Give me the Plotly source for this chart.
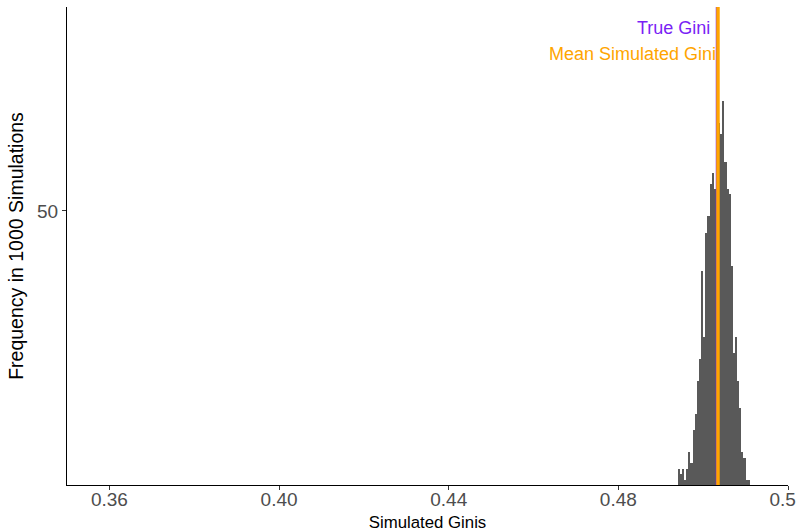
import plotly.graph_objects as go

# ---- data ----
bin_centers = [0.49425, 0.49475, 0.49525, 0.49575, 0.49625, 0.49675, 0.49725, 0.49775,
               0.49825, 0.49875, 0.49925, 0.49975, 0.50025, 0.50075, 0.50125, 0.50175,
               0.50225, 0.50275, 0.50325, 0.50375, 0.50425, 0.50475, 0.50525, 0.50575,
               0.50625, 0.50675, 0.50725, 0.50775, 0.50825, 0.50875, 0.50925, 0.50975,
               0.51025, 0.51075]
counts = [3, 2, 3, 1, 3, 6, 4, 10, 13, 19, 23, 39, 27, 46, 49, 55, 57, 54, 65, 66,
          64, 70, 59, 54, 53, 40, 24, 27, 19, 14, 6, 5, 1, 1]
bin_width = 0.0005

true_gini = 0.50332
mean_sim_gini = 0.50349

x_tickvals = [0.36, 0.40, 0.44, 0.48, 0.52]
x_ticktext = ["0.36", "0.40", "0.44", "0.48", "0.52"]
y_tickvals = [50]
y_ticktext = ["50"]

FONT = "Liberation Sans, Arial, sans-serif"
PURPLE = "#7A1FF5"
ORANGE = "#FFA500"

fig = go.Figure()
fig.add_trace(go.Bar(
    x=bin_centers, y=counts, width=bin_width,
    marker=dict(color="#595959", line=dict(width=0)),
    hoverinfo="x+y", showlegend=False,
))

# vertical reference lines
fig.add_shape(type="line", xref="x", yref="paper", x0=true_gini, x1=true_gini,
              y0=0, y1=1, line=dict(color=PURPLE, width=3))
fig.add_shape(type="line", xref="x", yref="paper", x0=mean_sim_gini, x1=mean_sim_gini,
              y0=0, y1=1, line=dict(color=ORANGE, width=3.5))

fig.add_annotation(x=true_gini, y=83.4, xref="x", yref="y", text="True Gini",
                   showarrow=False, xanchor="right", yanchor="middle", xshift=-5,
                   font=dict(family=FONT, size=18, color=PURPLE))
fig.add_annotation(x=mean_sim_gini, y=78.7, xref="x", yref="y", text="Mean Simulated Gini",
                   showarrow=False, xanchor="right", yanchor="middle", xshift=0,
                   font=dict(family=FONT, size=18, color=ORANGE))

fig.update_layout(
    width=796, height=532,
    margin=dict(l=67, r=8, t=7, b=47, autoexpand=False),
    paper_bgcolor="white", plot_bgcolor="white",
    bargap=0,
    font=dict(family=FONT, color="black"),
    xaxis=dict(
        range=[0.35, 0.52], tickvals=x_tickvals, ticktext=x_ticktext,
        showgrid=False, zeroline=False, showline=True, linecolor="black", linewidth=1.3,
        ticks="outside", ticklen=4, tickwidth=1, tickcolor="#333333",
        tickfont=dict(family=FONT, size=19, color="#4D4D4D"),
        ticklabelstandoff=-7, ticklabeloverflow="allow",
        title=dict(text="Simulated Ginis", font=dict(family=FONT, size=16.8, color="black"),
                   standoff=10),
        automargin=False,
    ),
    yaxis=dict(
        range=[0, 87.2], tickvals=y_tickvals, ticktext=y_ticktext,
        showgrid=False, zeroline=False, showline=True, linecolor="black", linewidth=1.3,
        ticks="outside", ticklen=4, tickwidth=1, tickcolor="#333333",
        tickfont=dict(family=FONT, size=19, color="#4D4D4D"),
        title=dict(text="Frequency in 1000 Simulations",
                   font=dict(family=FONT, size=19.5, color="black"), standoff=8),
        automargin=False,
    ),
)

fig.write_html("out.html")
